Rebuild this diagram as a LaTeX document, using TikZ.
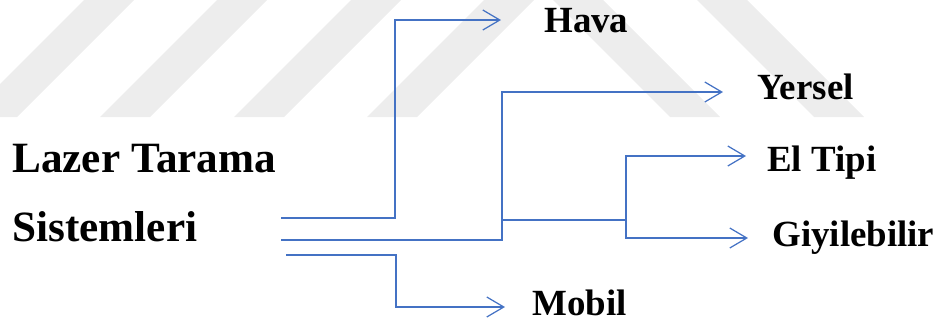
\documentclass[tikz,border=0pt]{standalone}
\usepackage{fontspec}
\setmainfont{Liberation Serif}[BoldFont={Liberation Serif Bold}]
\usetikzlibrary{arrows.meta}
\definecolor{linkblue}{HTML}{4472C4}

\begin{document}
\begin{tikzpicture}
[x=0.02cm,y=-0.02cm,
 lbl/.style={anchor=base west,inner sep=0pt,font=\bfseries\fontsize{21}{25}\selectfont},
 biglbl/.style={lbl,font=\bfseries\fontsize{24.6}{29}\selectfont},
 link/.style={draw=linkblue,line width=0.7pt},
 arr/.style={link,-{Straight Barb[length=3.4mm,width=4mm]}},
 stripe/.style={fill=black!7,draw=none}]
\useasboundingbox (0,0) rectangle (943,322);
\foreach \x in {-33,100,234,367} \fill[stripe] (\x,117) -- (\x+50,117) -- (\x+167,0) -- (\x+117,0) -- cycle;
\foreach \x in {553,697} \fill[stripe] (\x,0) -- (\x+50,0) -- (\x+167,117) -- (\x+117,117) -- cycle;
\node[biglbl] (lazer) at (12,172) {Lazer Tarama};
\node[biglbl] (sist) at (12,241) {Sistemleri};
\node[lbl] (hava) at (544,32) {Hava};
\node[lbl] (yersel) at (757,99) {Yersel};
\node[lbl] (eltipi) at (767,171) {El Tipi};
\node[lbl] (giyil) at (772,246) {Giyilebilir};
\node[lbl] (mobil) at (532,315) {Mobil};
\coordinate (h0) at (281,218);
\coordinate (ht) at (501,20);
\coordinate (y0) at (281,240);
\coordinate (yt) at (723,92);
\coordinate (j) at (502,220);
\coordinate (k) at (626,220);
\coordinate (et) at (746,156);
\coordinate (gt) at (748,238);
\coordinate (m0) at (286,255);
\coordinate (mt) at (505,307);
\draw[arr] (h0) -- ++(114,0) |- (ht);
\draw[arr] (y0) -- ++(221,0) |- (yt);
\draw[link] (j) -- (k);
\draw[arr] (k) |- (et);
\draw[arr] (k) |- (gt);
\draw[arr] (m0) -- ++(110,0) |- (mt);
\end{tikzpicture}
\end{document}
